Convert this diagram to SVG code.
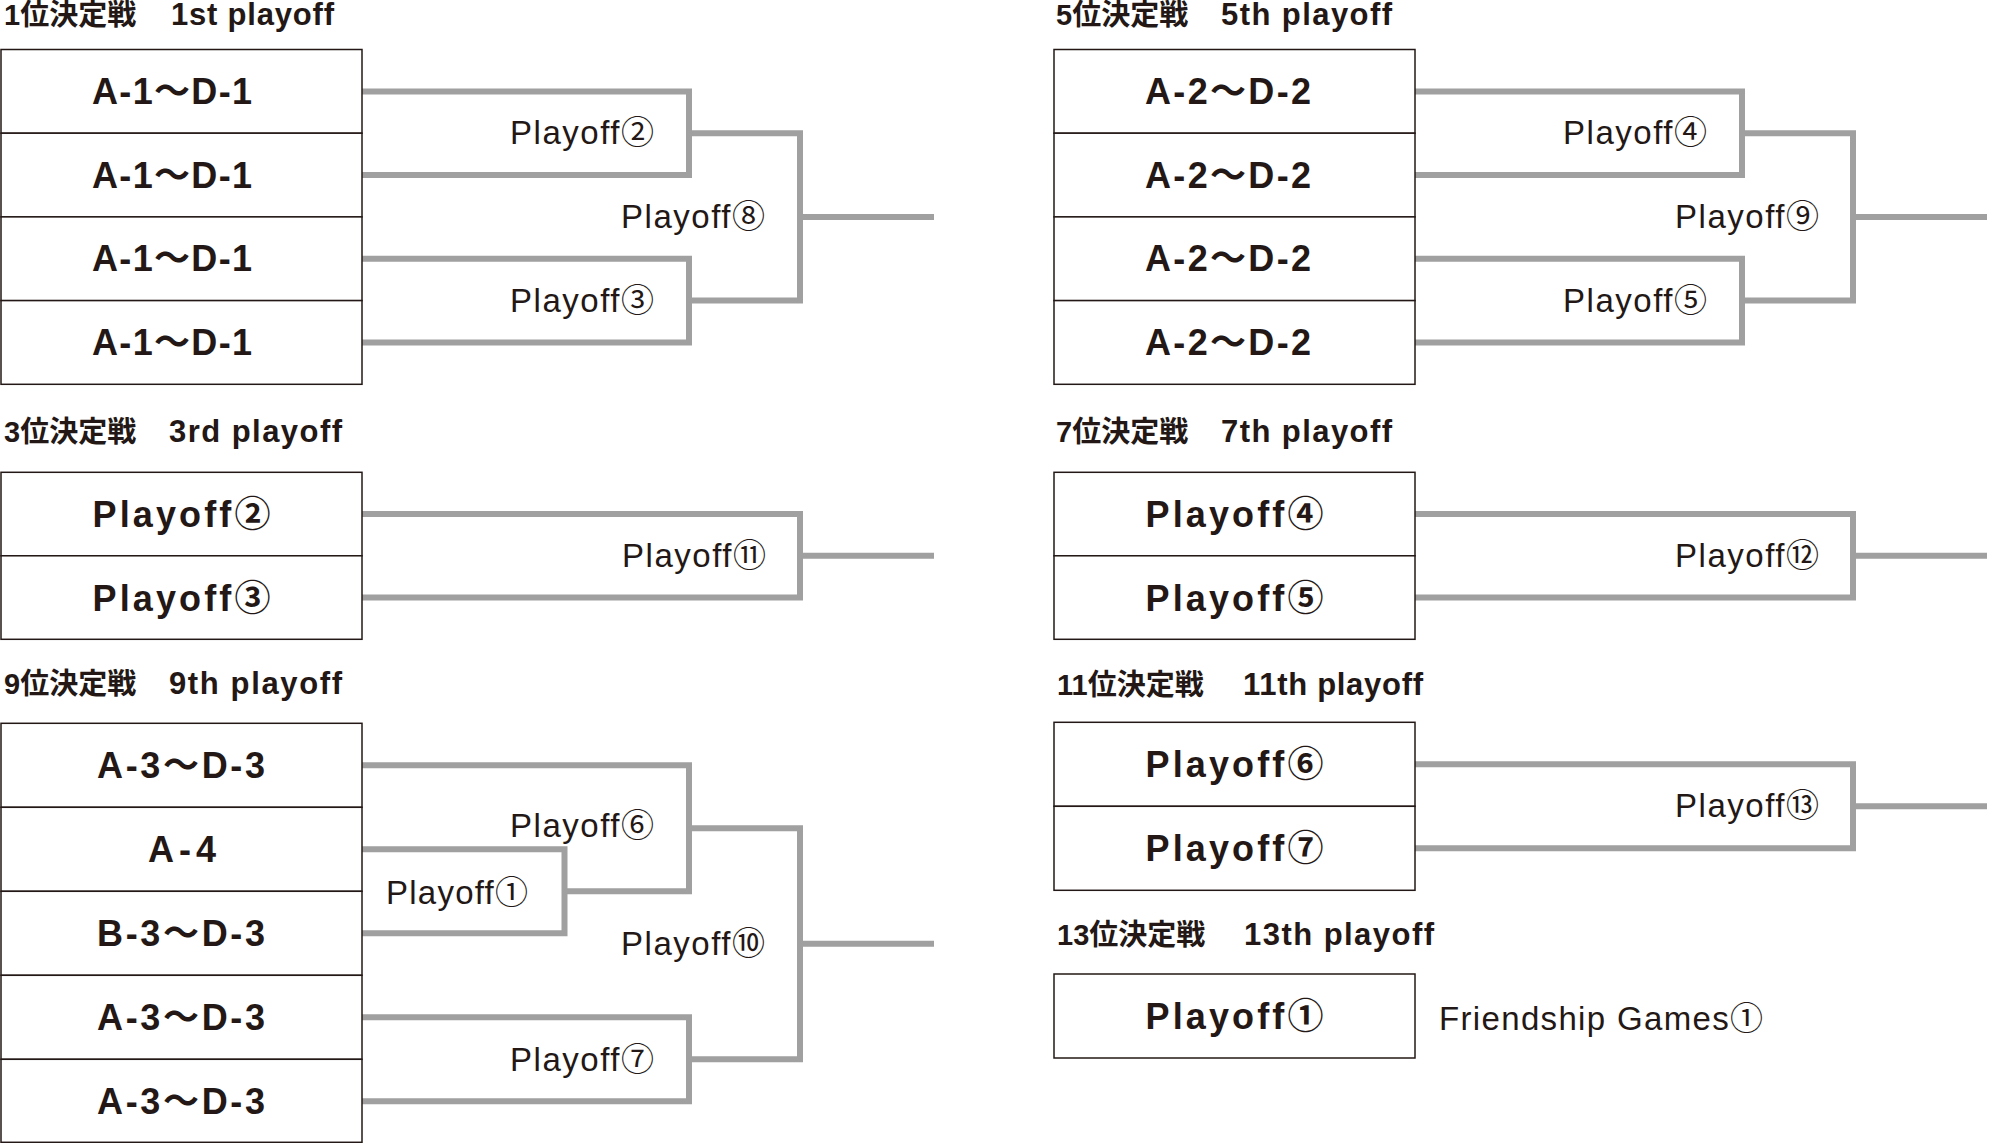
<svg xmlns="http://www.w3.org/2000/svg" width="2000" height="1143" viewBox="0 0 2000 1143">
<style>
text{font-family:"Liberation Sans","Noto Sans CJK JP",sans-serif;fill:#231815}
.title{font-size:29px;font-weight:bold}
.title .en{font-size:31px}
.cell rect{fill:#fff;stroke:#231815;stroke-width:1.5}
.cell text{font-size:36px;font-weight:bold}
.lbl{font-size:33px}
.end{text-anchor:end}
#connectors path{fill:none;stroke:#a0a0a0;stroke-width:6;stroke-linejoin:miter;stroke-linecap:butt}
</style>
<rect width="2000" height="1143" fill="#fff"/>

<g id="titles">
<text class="title" y="25"><tspan x="4">1位決定戦　</tspan><tspan class="en" x="171" textLength="163">1st playoff</tspan></text>
<text class="title" y="442"><tspan x="4">3位決定戦　</tspan><tspan class="en" x="169" textLength="173">3rd playoff</tspan></text>
<text class="title" y="694"><tspan x="4">9位決定戦　</tspan><tspan class="en" x="169" textLength="173">9th playoff</tspan></text>
<text class="title" y="25"><tspan x="1056">5位決定戦　</tspan><tspan class="en" x="1221" textLength="171">5th playoff</tspan></text>
<text class="title" y="442"><tspan x="1056">7位決定戦　</tspan><tspan class="en" x="1221" textLength="171">7th playoff</tspan></text>
<text class="title" y="695"><tspan x="1057">11位決定戦　</tspan><tspan class="en" x="1243" textLength="180">11th playoff</tspan></text>
<text class="title" y="945"><tspan x="1057">13位決定戦　</tspan><tspan class="en" x="1244" textLength="190">13th playoff</tspan></text>
</g>

<g id="connectors">
<!-- 1st playoff -->
<path d="M362,91.4 H689 V175.1 H362"/>
<path d="M362,258.8 H689 V342.5 H362"/>
<path d="M689,133.2 H800 V300.6 H689 M800,216.9 H934"/>
<!-- 3rd playoff -->
<path d="M362,514 H800 V597.5 H362 M800,555.8 H934"/>
<!-- 9th playoff -->
<path d="M362,849.3 H564.5 V933.3 H362"/>
<path d="M362,765.3 H689 V891.3 H564.5"/>
<path d="M362,1017.3 H689 V1101.3 H362"/>
<path d="M689,828.3 H800 V1059.3 H689 M800,943.8 H934"/>
<!-- 5th playoff -->
<path d="M1415,91.4 H1742 V175.1 H1415"/>
<path d="M1415,258.8 H1742 V342.5 H1415"/>
<path d="M1742,133.2 H1853 V300.6 H1742 M1853,216.9 H1987"/>
<!-- 7th playoff -->
<path d="M1415,514 H1853 V597.5 H1415 M1853,555.8 H1987"/>
<!-- 11th playoff -->
<path d="M1415,764.3 H1853 V848.3 H1415 M1853,806.3 H1987"/>
</g>

<g id="match-labels">
<text class="lbl end" x="654" y="144" textLength="144">Playoff②</text>
<text class="lbl end" x="654" y="312" textLength="144">Playoff③</text>
<text class="lbl end" x="765" y="228" textLength="144">Playoff⑧</text>
<text class="lbl end" x="766" y="567" textLength="144">Playoff⑪</text>
<text class="lbl end" x="654" y="837" textLength="144">Playoff⑥</text>
<text class="lbl" x="386" y="904" textLength="142">Playoff①</text>
<text class="lbl end" x="765" y="955" textLength="144">Playoff⑩</text>
<text class="lbl end" x="654" y="1071" textLength="144">Playoff⑦</text>
<text class="lbl end" x="1707" y="144" textLength="144">Playoff④</text>
<text class="lbl end" x="1707" y="312" textLength="144">Playoff⑤</text>
<text class="lbl end" x="1819" y="228" textLength="144">Playoff⑨</text>
<text class="lbl end" x="1819" y="567" textLength="144">Playoff⑫</text>
<text class="lbl end" x="1819" y="817" textLength="144">Playoff⑬</text>
<text class="lbl" x="1439" y="1030" textLength="324">Friendship Games①</text>
</g>

<!-- 1st playoff cells -->
<g id="n1a" class="cell"><rect x="1" y="49.5" width="361" height="83.7"/><text x="92" y="104" textLength="160">A-1～D-1</text></g>
<g id="n1b" class="cell"><rect x="1" y="133.2" width="361" height="83.7"/><text x="92" y="187.7" textLength="160">A-1～D-1</text></g>
<g id="n1c" class="cell"><rect x="1" y="216.9" width="361" height="83.7"/><text x="92" y="271.4" textLength="160">A-1～D-1</text></g>
<g id="n1d" class="cell"><rect x="1" y="300.6" width="361" height="83.7"/><text x="92" y="355.1" textLength="160">A-1～D-1</text></g>

<!-- 3rd playoff cells -->
<g id="n3a" class="cell"><rect x="1" y="472.3" width="361" height="83.5"/><text x="92.5" y="527" textLength="178">Playoff②</text></g>
<g id="n3b" class="cell"><rect x="1" y="555.8" width="361" height="83.5"/><text x="92.5" y="610.5" textLength="178">Playoff③</text></g>

<!-- 9th playoff cells -->
<g id="n9a" class="cell"><rect x="1" y="723.3" width="361" height="84"/><text x="97" y="778" textLength="168">A-3～D-3</text></g>
<g id="n9b" class="cell"><rect x="1" y="807.3" width="361" height="84"/><text x="148" y="862" textLength="68">A-4</text></g>
<g id="n9c" class="cell"><rect x="1" y="891.3" width="361" height="84"/><text x="97" y="946" textLength="168">B-3～D-3</text></g>
<g id="n9d" class="cell"><rect x="1" y="975.3" width="361" height="84"/><text x="97" y="1030" textLength="168">A-3～D-3</text></g>
<g id="n9e" class="cell"><rect x="1" y="1059.3" width="361" height="83"/><text x="97" y="1114" textLength="168">A-3～D-3</text></g>

<!-- 5th playoff cells -->
<g id="n5a" class="cell"><rect x="1054" y="49.5" width="361" height="83.7"/><text x="1145" y="104" textLength="166">A-2～D-2</text></g>
<g id="n5b" class="cell"><rect x="1054" y="133.2" width="361" height="83.7"/><text x="1145" y="187.7" textLength="166">A-2～D-2</text></g>
<g id="n5c" class="cell"><rect x="1054" y="216.9" width="361" height="83.7"/><text x="1145" y="271.4" textLength="166">A-2～D-2</text></g>
<g id="n5d" class="cell"><rect x="1054" y="300.6" width="361" height="83.7"/><text x="1145" y="355.1" textLength="166">A-2～D-2</text></g>

<!-- 7th playoff cells -->
<g id="n7a" class="cell"><rect x="1054" y="472.3" width="361" height="83.5"/><text x="1145.5" y="527" textLength="178">Playoff④</text></g>
<g id="n7b" class="cell"><rect x="1054" y="555.8" width="361" height="83.5"/><text x="1145.5" y="610.5" textLength="178">Playoff⑤</text></g>

<!-- 11th playoff cells -->
<g id="n11a" class="cell"><rect x="1054" y="722.3" width="361" height="84"/><text x="1145.5" y="777" textLength="178">Playoff⑥</text></g>
<g id="n11b" class="cell"><rect x="1054" y="806.3" width="361" height="84"/><text x="1145.5" y="861" textLength="178">Playoff⑦</text></g>

<!-- 13th playoff cell -->
<g id="n13a" class="cell"><rect x="1054" y="974" width="361" height="84"/><text x="1145.5" y="1029" textLength="178">Playoff①</text></g>
</svg>
